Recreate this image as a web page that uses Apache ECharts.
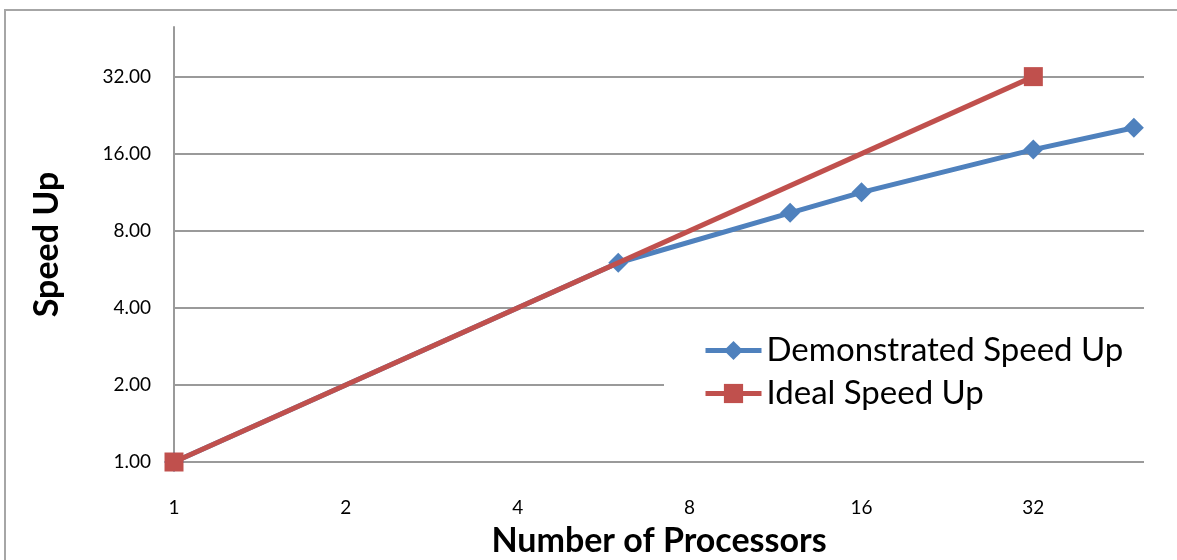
<!DOCTYPE html>
<html>
<head>
<meta charset="utf-8">
<script src="https://cdn.jsdelivr.net/npm/echarts@6/dist/echarts.min.js"></script>
<style>
html,body{margin:0;padding:0;background:#fff;}
#c{width:1177px;height:560px;}
</style>
</head>
<body>
<div id="c"></div>
<script>
const processors = [1, 6, 12, 16, 32, 48];
const demonstrated = [1, 6.0, 9.4, 11.3, 16.6, 20.2];
const idealProcessors = [1, 32];
const ideal = [1, 32];
const seriesNames = ['Demonstrated Speed Up', 'Ideal Speed Up'];
const xTitle = 'Number of Processors';
const yTitle = 'Speed Up';

const FONT = 'Lato';
const chart = echarts.init(document.getElementById('c'));
chart.setOption({
  animation: false,
  backgroundColor: '#fff',
  textStyle: { fontFamily: FONT },
  graphic: [
    { type: 'rect', z: 0, shape: { x: 5, y: 10, width: 1200, height: 600 },
      style: { fill: 'none', stroke: '#a6a6a6', lineWidth: 2 } },
    { type: 'rect', z: 3, shape: { x: 664, y: 322, width: 482, height: 96 },
      style: { fill: '#fff' } }
  ],
  grid: { left: 174, right: 33, top: 27, bottom: 98, containLabel: false, outerBoundsMode: 'none' },
  legend: {
    orient: 'vertical', left: 698, top: 329, z: 5,
    itemWidth: 56, itemHeight: 24, itemGap: 10,
    lineStyle: { width: 5 },
    textStyle: { fontFamily: FONT, fontSize: 33, color: '#000' },
    data: seriesNames
  },
  xAxis: {
    type: 'log', logBase: 2, min: 1, max: 50, interval: 1,
    name: xTitle, nameLocation: 'middle', nameGap: 62,
    nameTextStyle: { fontFamily: FONT, fontSize: 34, fontWeight: 'bold', color: '#000' },
    axisLine: { show: false }, axisTick: { show: false },
    splitLine: { show: false },
    axisLabel: { margin: 36, fontSize: 19, color: '#000', showMaxLabel: false,
      formatter: v => String(Math.round(v)) }
  },
  yAxis: {
    type: 'log', logBase: 2, min: 1, max: 50, interval: 1,
    name: yTitle, nameLocation: 'middle', nameGap: 110, nameRotate: 90,
    nameTextStyle: { fontFamily: FONT, fontSize: 34, fontWeight: 'bold', color: '#000' },
    axisLine: { show: true, lineStyle: { color: '#9a9a9a', width: 2 } },
    axisTick: { show: false },
    splitLine: { show: true, showMaxLine: false, lineStyle: { color: '#9a9a9a', width: 2 } },
    axisLabel: { margin: 23, fontSize: 19, color: '#000', showMaxLabel: false,
      formatter: v => Number(v).toFixed(2) }
  },
  series: [
    { name: seriesNames[0], type: 'line', z: 2,
      data: processors.map((p, i) => [p, demonstrated[i]]),
      symbol: 'diamond', symbolSize: 20,
      lineStyle: { color: '#4f81bd', width: 5 },
      itemStyle: { color: '#4f81bd' } },
    { name: seriesNames[1], type: 'line', z: 3,
      data: idealProcessors.map((p, i) => [p, ideal[i]]),
      symbol: 'rect', symbolSize: 19,
      lineStyle: { color: '#c0504d', width: 5 },
      itemStyle: { color: '#c0504d' } }
  ]
});
</script>
</body>
</html>
